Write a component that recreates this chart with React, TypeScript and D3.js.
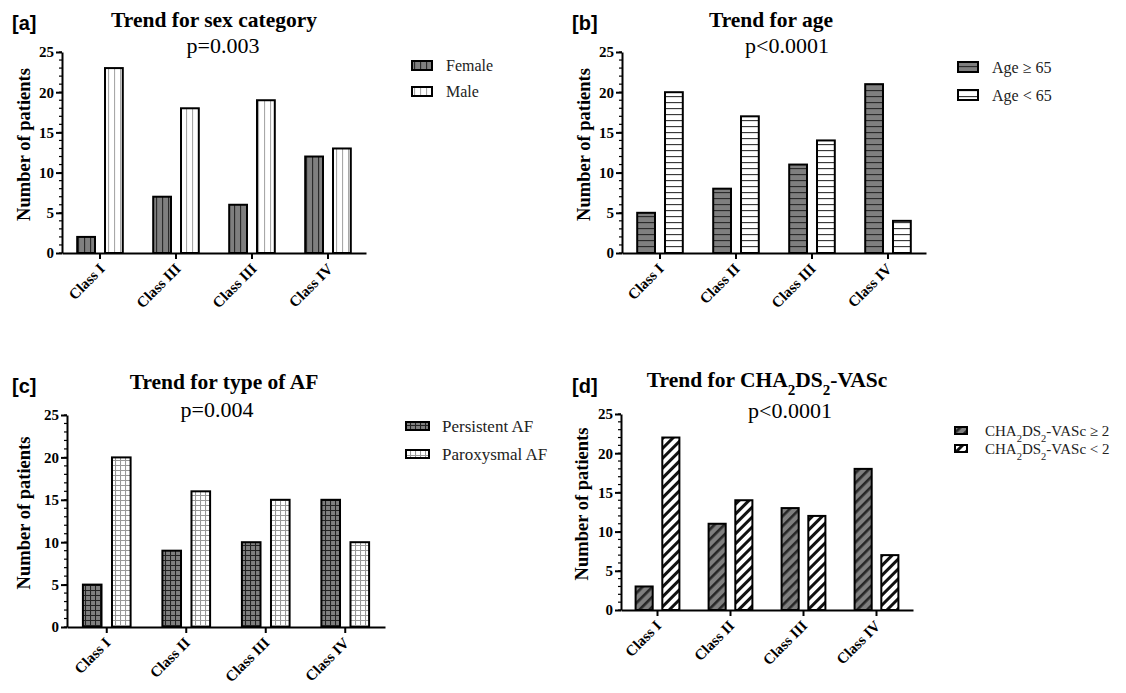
import { useRef, useEffect } from "react";
import * as d3 from "d3";

// categories (panel a repeats "Class III" exactly like the source figure)
const CLASSES_A = ["Class I", "Class III", "Class III", "Class IV"];
const CLASSES = ["Class I", "Class II", "Class III", "Class IV"];

// values
const SEX_FEMALE = [2, 7, 6, 12];
const SEX_MALE = [23, 18, 19, 13];
const AGE_OVER_65 = [5, 8, 11, 21];
const AGE_UNDER_65 = [20, 17, 14, 4];
const AF_PERSISTENT = [5, 9, 10, 15];
const AF_PAROXYSMAL = [20, 16, 15, 10];
const CHA_HIGH = [3, 11, 13, 18];
const CHA_LOW = [22, 14, 12, 7];

const Y_TICKS = [0, 5, 10, 15, 20, 25];
const Y_MAX = 25;

const SERIF = '"Liberation Serif", "Times New Roman", serif';
const SANS = '"Liberation Sans", Arial, sans-serif';

// "_x" in a label marks a subscript character
const PANELS = [
  {
    tag: "[a]", tagX: 12, tagY: 30,
    title: "Trend for sex category", titleX: 214, titleY: 27,
    p: "p=0.003", pX: 223, pY: 53,
    x0: 62, x1: 366, yTop: 52, yZero: 253, yLabOff: 32, xLabDx: 2,
    cats: CLASSES_A,
    series: [
      { name: "Female", values: SEX_FEMALE, fill: "url(#vDark)" },
      { name: "Male", values: SEX_MALE, fill: "url(#vLight)" },
    ],
    legX: 412, legY: 61, legW: 20, legH: 9, legStep: 26, legFont: 16, legText: 446,
  },
  {
    tag: "[b]", tagX: 572, tagY: 30,
    title: "Trend for age", titleX: 771, titleY: 27,
    p: "p<0.0001", pX: 787, pY: 53,
    x0: 622, x1: 926, yTop: 52, yZero: 253, yLabOff: 32, xLabDx: 1,
    cats: CLASSES,
    series: [
      { name: "Age ≥ 65", values: AGE_OVER_65, fill: "url(#hDark)" },
      { name: "Age < 65", values: AGE_UNDER_65, fill: "url(#hLight)" },
    ],
    legX: 958, legY: 62, legW: 20, legH: 10, legStep: 28, legFont: 16, legText: 992,
  },
  {
    tag: "[c]", tagX: 12, tagY: 393,
    title: "Trend for type of AF", titleX: 224, titleY: 389,
    p: "p=0.004", pX: 217, pY: 417,
    x0: 67, x1: 385, yTop: 415, yZero: 627, yLabOff: 37, xLabDx: 1,
    cats: CLASSES,
    series: [
      { name: "Persistent AF", values: AF_PERSISTENT, fill: "url(#gDark)" },
      { name: "Paroxysmal AF", values: AF_PAROXYSMAL, fill: "url(#gLight)" },
    ],
    legX: 406, legY: 422, legW: 23, legH: 8, legStep: 28, legFont: 17, legText: 442,
  },
  {
    tag: "[d]", tagX: 572, tagY: 393,
    title: "Trend for CHA_2DS_2-VASc", titleX: 767, titleY: 387,
    p: "p<0.0001", pX: 790, pY: 418,
    x0: 621, x1: 913, yTop: 414, yZero: 610, yLabOff: 33, xLabDx: 1,
    cats: CLASSES,
    series: [
      { name: "CHA_2DS_2-VASc ≥ 2", values: CHA_HIGH, fill: "url(#dDark)" },
      { name: "CHA_2DS_2-VASc < 2", values: CHA_LOW, fill: "url(#dLight)" },
    ],
    legX: 955, legY: 427, legW: 12, legH: 7, legStep: 18, legFont: 15, legText: 985,
  },
];

function richText(sel: d3.Selection<SVGTextElement, unknown, null, undefined>, str: string) {
  const parts = str.split(/(_.)/).filter((s) => s.length > 0);
  parts.forEach((part) => {
    if (part.startsWith("_")) {
      sel.append("tspan").attr("baseline-shift", "sub").attr("font-size", "70%").text(part.slice(1));
    } else {
      sel.append("tspan").text(part);
    }
  });
}

export default function App() {
  const svgRef = useRef<SVGSVGElement>(null);

  useEffect(() => {
    if (!svgRef.current) return;
    const svg = d3.select(svgRef.current);
    svg.selectAll("*").remove();

    const defs = svg.append("defs");

    // vertical lines
    const vDark = defs.append("pattern").attr("id", "vDark").attr("patternUnits", "userSpaceOnUse").attr("width", 6).attr("height", 6);
    vDark.append("rect").attr("width", 6).attr("height", 6).attr("fill", "#7f7f7f");
    vDark.append("line").attr("x1", 0.5).attr("x2", 0.5).attr("y1", 0).attr("y2", 6).attr("stroke", "#2a2a2a").attr("stroke-width", 1.3);
    const vLight = defs.append("pattern").attr("id", "vLight").attr("patternUnits", "userSpaceOnUse").attr("width", 6).attr("height", 6);
    vLight.append("rect").attr("width", 6).attr("height", 6).attr("fill", "#fff");
    vLight.append("line").attr("x1", 0.5).attr("x2", 0.5).attr("y1", 0).attr("y2", 6).attr("stroke", "#a8a8a8").attr("stroke-width", 1.2);

    // horizontal lines
    const hDark = defs.append("pattern").attr("id", "hDark").attr("patternUnits", "userSpaceOnUse").attr("width", 6).attr("height", 6);
    hDark.append("rect").attr("width", 6).attr("height", 6).attr("fill", "#7f7f7f");
    hDark.append("line").attr("x1", 0).attr("x2", 6).attr("y1", 0.5).attr("y2", 0.5).attr("stroke", "#2a2a2a").attr("stroke-width", 1.3);
    const hLight = defs.append("pattern").attr("id", "hLight").attr("patternUnits", "userSpaceOnUse").attr("width", 6).attr("height", 6);
    hLight.append("rect").attr("width", 6).attr("height", 6).attr("fill", "#fff");
    hLight.append("line").attr("x1", 0).attr("x2", 6).attr("y1", 0.5).attr("y2", 0.5).attr("stroke", "#3a3a3a").attr("stroke-width", 1.3);

    // grid
    const gDark = defs.append("pattern").attr("id", "gDark").attr("patternUnits", "userSpaceOnUse").attr("width", 5).attr("height", 5);
    gDark.append("rect").attr("width", 5).attr("height", 5).attr("fill", "#7f7f7f");
    gDark.append("path").attr("d", "M0.5,0V5M0,0.5H5").attr("stroke", "#222").attr("stroke-width", 1.1).attr("fill", "none");
    const gLight = defs.append("pattern").attr("id", "gLight").attr("patternUnits", "userSpaceOnUse").attr("width", 5).attr("height", 5);
    gLight.append("rect").attr("width", 5).attr("height", 5).attr("fill", "#fff");
    gLight.append("path").attr("d", "M0.5,0V5M0,0.5H5").attr("stroke", "#999").attr("stroke-width", 1.1).attr("fill", "none");

    // diagonal stripes
    const dDark = defs.append("pattern").attr("id", "dDark").attr("patternUnits", "userSpaceOnUse").attr("width", 7).attr("height", 7).attr("patternTransform", "rotate(45)");
    dDark.append("rect").attr("width", 7).attr("height", 7).attr("fill", "#7f7f7f");
    dDark.append("rect").attr("width", 2.6).attr("height", 7).attr("fill", "#262626");
    const dLight = defs.append("pattern").attr("id", "dLight").attr("patternUnits", "userSpaceOnUse").attr("width", 7).attr("height", 7).attr("patternTransform", "rotate(45)");
    dLight.append("rect").attr("width", 7).attr("height", 7).attr("fill", "#fff");
    dLight.append("rect").attr("width", 3).attr("height", 7).attr("fill", "#111");

    PANELS.forEach((P) => {
      const g = svg.append("g");

      const x = d3.scaleBand<string>().domain(P.cats.map((c, i) => `${i}`)).range([P.x0, P.x1]);
      const inner = d3
        .scaleBand<number>()
        .domain([0, 1])
        .range([x.bandwidth() * 0.2, x.bandwidth() * 0.8])
        .paddingInner(0.36);
      const y = d3.scaleLinear().domain([0, Y_MAX]).range([P.yZero, P.yTop]);

      // bars
      P.series.forEach((s, si) => {
        g.selectAll(`.bar${si}`)
          .data(s.values)
          .join("rect")
          .attr("x", (_, i) => (x(`${i}`) ?? 0) + (inner(si) ?? 0))
          .attr("y", (d) => y(d))
          .attr("width", inner.bandwidth())
          .attr("height", (d) => y(0) - y(d))
          .attr("fill", s.fill)
          .attr("stroke", "#000")
          .attr("stroke-width", 2);
      });

      // minor ticks
      g.selectAll(".minor")
        .data(d3.range(0, Y_MAX + 1))
        .join("line")
        .attr("x1", P.x0 - 3)
        .attr("x2", P.x0)
        .attr("y1", (d) => y(d))
        .attr("y2", (d) => y(d))
        .attr("stroke", "#000")
        .attr("stroke-width", 1.2);

      // y axis
      const yAxis = g
        .append("g")
        .attr("transform", `translate(${P.x0},0)`)
        .call(d3.axisLeft(y).tickValues(Y_TICKS).tickSize(6).tickSizeOuter(0).tickPadding(2));
      yAxis.select(".domain").attr("stroke-width", 2);
      yAxis.selectAll(".tick line").attr("stroke-width", 2);
      yAxis
        .selectAll(".tick text")
        .attr("font-family", SERIF)
        .attr("font-weight", "bold")
        .attr("font-size", 15)
        .attr("fill", "#000");

      // x axis
      const xAxis = g
        .append("g")
        .attr("transform", `translate(0,${P.yZero})`)
        .call(d3.axisBottom(x).tickSize(6).tickSizeOuter(0).tickFormat(() => ""));
      xAxis.select(".domain").attr("stroke-width", 2);
      xAxis.selectAll(".tick line").attr("stroke-width", 2);

      g.selectAll(".xlab")
        .data(P.cats)
        .join("text")
        .attr("transform", (_, i) => {
          const cx = (x(`${i}`) ?? 0) + x.bandwidth() / 2;
          return `translate(${cx + P.xLabDx},${P.yZero + 13}) rotate(-45)`;
        })
        .attr("text-anchor", "end")
        .attr("dy", "0.35em")
        .attr("font-family", SERIF)
        .attr("font-weight", "bold")
        .attr("font-size", 15)
        .text((d) => d);

      // y label
      g.append("text")
        .attr("transform", `translate(${P.x0 - P.yLabOff},${(P.yTop + P.yZero) / 2 - 8}) rotate(-90)`)
        .attr("text-anchor", "middle")
        .attr("font-family", SERIF)
        .attr("font-weight", "bold")
        .attr("font-size", 18.5)
        .text("Number of patients");

      // tag, title, p value
      g.append("text")
        .attr("x", P.tagX)
        .attr("y", P.tagY)
        .attr("font-family", SANS)
        .attr("font-weight", "bold")
        .attr("font-size", 20)
        .text(P.tag);

      const title = g
        .append("text")
        .attr("x", P.titleX)
        .attr("y", P.titleY)
        .attr("text-anchor", "middle")
        .attr("font-family", SERIF)
        .attr("font-weight", "bold")
        .attr("font-size", 21.5);
      richText(title, P.title);

      g.append("text")
        .attr("x", P.pX)
        .attr("y", P.pY)
        .attr("text-anchor", "middle")
        .attr("font-family", SERIF)
        .attr("font-size", 22)
        .text(P.p);

      // legend
      P.series.forEach((s, si) => {
        const ly = P.legY + si * P.legStep;
        g.append("rect")
          .attr("x", P.legX)
          .attr("y", ly)
          .attr("width", P.legW)
          .attr("height", P.legH)
          .attr("fill", s.fill)
          .attr("stroke", "#000")
          .attr("stroke-width", 2);
        const t = g
          .append("text")
          .attr("x", P.legText)
          .attr("y", ly + P.legH / 2)
          .attr("dy", "0.35em")
          .attr("font-family", SERIF)
          .attr("font-size", P.legFont)
          .attr("fill", "#222");
        richText(t, s.name);
      });
    });
  }, []);

  return (
    <svg
      ref={svgRef}
      width={1126}
      height={693}
      style={{ position: "absolute", left: 0, top: 0, background: "#fff" }}
    />
  );
}
